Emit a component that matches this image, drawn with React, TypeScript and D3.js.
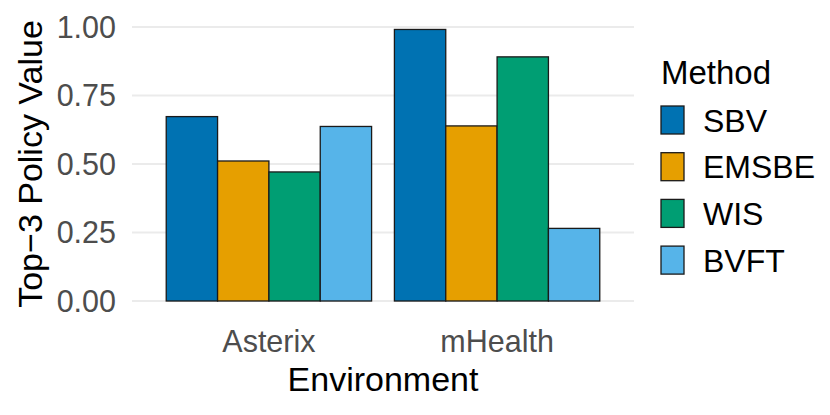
import React from "react";
import * as d3 from "d3";

const environments = ["Asterix", "mHealth"];
const methods = ["SBV", "EMSBE", "WIS", "BVFT"];
const colors = ["#0072B2", "#E69F00", "#009E73", "#56B4E9"];
const asterixValues = [0.673, 0.511, 0.471, 0.637];
const mhealthValues = [0.991, 0.639, 0.891, 0.265];
const yTicks = [0, 0.25, 0.5, 0.75, 1.0];

const seriesByEnv = [asterixValues, mhealthValues];

export default function App() {
  const W = 830, H = 415;
  const panelL = 132, panelR = 634;
  const x = d3.scaleLinear().domain([0.4, 2.6]).range([panelL, panelR]);
  const inner = d3.scaleBand<string>().domain(methods).range([-0.45, 0.45]).padding(0);
  const y = d3.scaleLinear().domain([0, 1]).range([301, 27]);
  const font = "'Liberation Sans', Arial, Helvetica, sans-serif";
  const fmt = d3.format(".2f");

  return (
    <div style={{ position: "absolute", left: 0, top: 0 }}>
      <svg width={W} height={H} style={{ display: "block", background: "#fff" }} fontFamily={font}>
        {yTicks.map((t) => (
          <line key={"g" + t} x1={panelL} x2={panelR} y1={y(t)} y2={y(t)} stroke="#EBEBEB" strokeWidth={2} />
        ))}
        {environments.map((env, i) =>
          methods.map((m, j) => {
            const v = seriesByEnv[i][j];
            const x0 = x(i + 1 + (inner(m) as number));
            const x1 = x(i + 1 + (inner(m) as number) + inner.bandwidth());
            return (
              <rect
                key={env + m}
                x={x0}
                y={y(v)}
                width={x1 - x0}
                height={y(0) - y(v)}
                fill={colors[j]}
                stroke="#1a1a1a"
                strokeWidth={1.3}
              />
            );
          })
        )}
        {yTicks.map((t) => (
          <text key={"t" + t} x={116} y={y(t)} dy="0.36em" textAnchor="end" fontSize={30.5} fill="#4D4D4D">
            {fmt(t)}
          </text>
        ))}
        {environments.map((env, i) => (
          <text key={"x" + env} x={x(i + 1)} y={352} textAnchor="middle" fontSize={30.5} fill="#4D4D4D">
            {env}
          </text>
        ))}
        <text x={(panelL + panelR) / 2} y={390.5} textAnchor="middle" fontSize={34} fill="#000">
          Environment
        </text>
        <text
          transform={`translate(41.5, ${(y(0) + y(1)) / 2}) rotate(-90)`}
          textAnchor="middle"
          fontSize={34}
          fill="#000"
        >
          Top−3 Policy Value
        </text>
        <text x={661} y={83.5} fontSize={33} fill="#000">Method</text>
        {methods.map((m, j) => {
          const cy = 120 + j * 46.7;
          return (
            <g key={"l" + m}>
              <rect x={661} y={cy - 14} width={23} height={28} fill={colors[j]} stroke="#1a1a1a" strokeWidth={1.3} />
              <text x={703} y={cy} dy="0.36em" fontSize={32} fill="#000">{m}</text>
            </g>
          );
        })}
      </svg>
    </div>
  );
}
